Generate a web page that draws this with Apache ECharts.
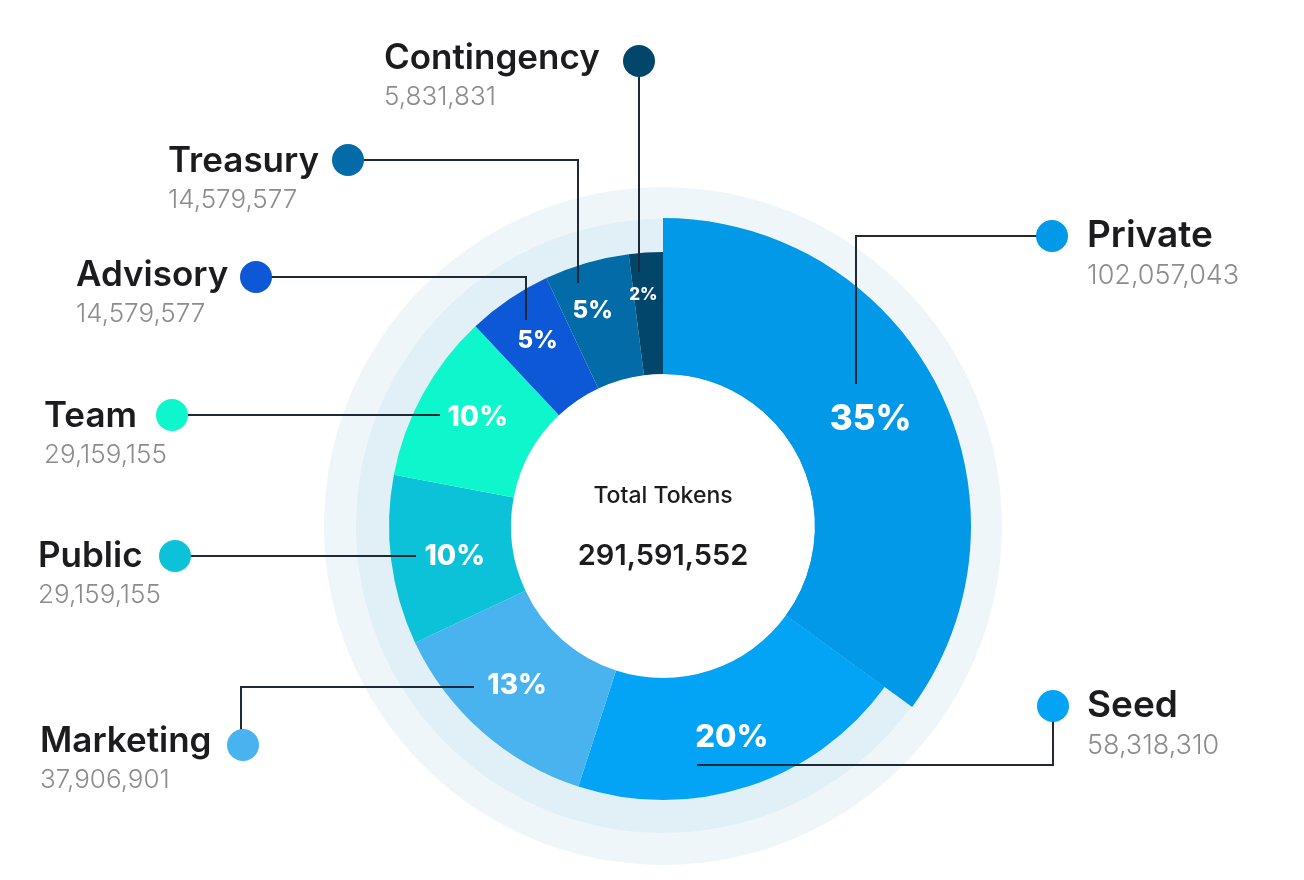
<!DOCTYPE html>
<html lang="en">
<head>
    <meta charset="UTF-8">
    <title>Token Allocation</title>
    <script src="https://cdn.jsdelivr.net/npm/echarts@6/dist/echarts.min.js"></script>
</head>
<body style="margin: 0; background: #ffffff">
<div id="chart" style="width: 1304px;height: 880px"></div>
</body>

<script>
    // token allocation, clockwise from 12 o'clock
    const categories = ['Private', 'Seed', 'Marketing', 'Public', 'Team', 'Advisory', 'Treasury', 'Contingency'];
    const tokens = [102057043, 58318310, 37906901, 29159155, 29159155, 14579577, 14579577, 5831831];
    const totalTokens = 291591552;

    const colors = ['#0399e9', '#03a3f6', '#48b3ee', '#0bc2d8', '#0ef6cc', '#0c58d6', '#026ba8', '#03466c'];
    const pctFontSizes = [35, 31, 28, 28, 28, 24, 24, 17];
    // small nudges for the percentage labels
    const pctNudge = [[0, -1], [2, 6], [-3, -2], [6, 4], [4, -4], [-4, -7], [-10, -8], [-6, -16]];

    // callout layout: label top-left, dot centre, leader line points, right-hand side?
    const callouts = [
        {x: 1087, y: 215, right: true, dot: [1052, 236], line: [[1052, 236], [856, 236], [856, 384]]},
        {x: 1087, y: 685, right: true, dot: [1053, 706], line: [[1053, 706], [1053, 765], [697, 765]]},
        {x: 40, y: 721, dot: [243, 745], line: [[241, 745], [241, 687], [474, 687]]},
        {x: 38, y: 536, dot: [175, 556], line: [[175, 556], [300, 556], [416, 556]]},
        {x: 44, y: 396, dot: [172, 415], line: [[172, 415], [300, 415], [440, 415]]},
        {x: 76, y: 255, dot: [256, 277], line: [[256, 277], [526, 277], [526, 320]]},
        {x: 168, y: 141, dot: [348, 160], line: [[348, 160], [578, 160], [578, 283]]},
        {x: 384, y: 38, dot: [639, 61], line: [[639, 61], [639, 160], [639, 272]]}
    ];

    const font = 'Inter';
    const center = [663, 526];

    function fmt(v) {
        return v.toLocaleString('en-US');
    }

    const sliceData = categories.map(function (name, i) {
        return {
            name: name,
            value: tokens[i],
            itemStyle: {color: colors[i]},
            label: {fontSize: pctFontSizes[i], show: i !== 0}
        };
    });

    // Private sticks out further than the other slices
    const privateData = categories.map(function (name, i) {
        return {
            name: name,
            value: tokens[i],
            itemStyle: {color: i === 0 ? colors[0] : 'rgba(0,0,0,0)'},
            label: {fontSize: pctFontSizes[i], show: i === 0}
        };
    });

    const pctLabel = {
        position: 'inside',
        color: '#ffffff',
        fontFamily: font,
        fontWeight: 800,
        formatter: function (p) {
            return Math.round(p.percent) + '%';
        }
    };

    const nudge = function (p) {
        const n = pctNudge[p.dataIndex];
        return {dx: n[0], dy: n[1]};
    };

    let chart = echarts.init(document.getElementById('chart'));
    let option = {
        animation: false,
        graphic: {
            elements: callouts.map(function (c, i) {
                return {
                    type: 'circle',
                    z: 100,
                    shape: {cx: c.dot[0], cy: c.dot[1], r: 16},
                    style: {fill: colors[i]}
                };
            }).concat([
                {
                    type: 'text',
                    z: 100,
                    x: center[0],
                    y: 496,
                    style: {
                        text: 'Total Tokens', fill: '#1c1c1e', font: '500 23px ' + font,
                        align: 'center', verticalAlign: 'middle'
                    }
                },
                {
                    type: 'text',
                    z: 100,
                    x: center[0],
                    y: 556,
                    style: {
                        text: fmt(totalTokens), fill: '#1c1c1e', font: '600 29px ' + font,
                        align: 'center', verticalAlign: 'middle'
                    }
                }
            ])
        },
        series: [
            {
                name: 'halo outer',
                type: 'pie',
                silent: true,
                center: center,
                radius: [260, 339],
                label: {show: false},
                itemStyle: {color: '#eef6fa'},
                data: [{value: 1}]
            },
            {
                name: 'halo inner',
                type: 'pie',
                silent: true,
                center: center,
                radius: [260, 307],
                label: {show: false},
                itemStyle: {color: '#e1eff6'},
                data: [{value: 1}]
            },
            {
                name: 'Allocation',
                type: 'pie',
                center: center,
                radius: [152, 274],
                startAngle: 90,
                label: pctLabel,
                labelLine: {show: false},
                labelLayout: nudge,
                data: sliceData
            },
            {
                name: 'Private',
                type: 'pie',
                center: center,
                radius: [152, 308],
                startAngle: 90,
                silent: true,
                label: pctLabel,
                labelLine: {show: false},
                labelLayout: nudge,
                data: privateData
            },
            {
                name: 'Callouts',
                type: 'pie',
                center: center,
                radius: [152, 274],
                startAngle: 90,
                silent: true,
                z: 5,
                itemStyle: {color: 'rgba(0,0,0,0)'},
                label: {
                    show: true,
                    position: 'outside',
                    formatter: function (p) {
                        const r = callouts[p.dataIndex].right ? 'r' : '';
                        return '{n' + r + '|' + p.name + '}\n{v' + r + '|' + fmt(p.value) + '}';
                    },
                    rich: {
                        n: {fontFamily: font, fontSize: 35, fontWeight: 600, color: '#1c1c1e', lineHeight: 40},
                        v: {fontFamily: font, fontSize: 26, fontWeight: 300, color: '#8c8c8c', lineHeight: 38},
                        nr: {fontFamily: font, fontSize: 37, fontWeight: 600, color: '#1c1c1e', lineHeight: 42},
                        vr: {fontFamily: font, fontSize: 27, fontWeight: 300, color: '#8c8c8c', lineHeight: 38}
                    }
                },
                labelLine: {
                    show: true,
                    lineStyle: {color: '#1f2a36', width: 2}
                },
                labelLayout: function (p) {
                    const c = callouts[p.dataIndex];
                    return {
                        x: c.x,
                        y: c.y,
                        align: 'left',
                        verticalAlign: 'top',
                        labelLinePoints: c.line
                    };
                },
                data: categories.map(function (name, i) {
                    return {name: name, value: tokens[i]};
                })
            }
        ]
    };
    chart.setOption(option);
</script>

</html>
